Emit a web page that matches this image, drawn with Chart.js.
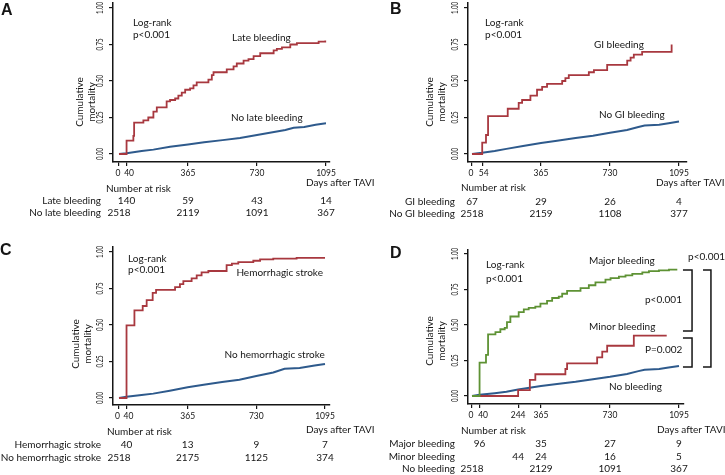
<!DOCTYPE html>
<html>
<head>
<meta charset="utf-8">
<script src="https://cdn.jsdelivr.net/npm/chart.js@4.4.1/dist/chart.umd.min.js"></script>
<style>
  html, body { margin: 0; padding: 0; background: #fff; }
  #wrap { position: relative; width: 725px; height: 475px; overflow: hidden; }
  #wrap canvas { position: absolute; left: 0; top: 0; }
</style>
</head>
<body>
<div id="wrap">
  <canvas id="panelA" width="725" height="475"></canvas>
  <canvas id="panelB" width="725" height="475"></canvas>
  <canvas id="panelC" width="725" height="475"></canvas>
  <canvas id="panelD" width="725" height="475"></canvas>
</div>
<script>
// ---- data: days after TAVI -> cumulative mortality ----
const yTicks = [0, 0.25, 0.5, 0.75, 1];
const yTickLabels = ['0.00', '0.25', '0.50', '0.75', '1.00'];

// A: late bleeding
const lateDays = [0, 40, 76, 80, 129, 155, 182, 200, 252, 270, 297, 314, 332, 350, 376, 394, 411, 473, 491, 500, 570, 606, 623, 659, 685, 712, 747, 818, 835, 862, 906, 941, 1056, 1091];
const lateMort = [0, 0.092, 0.124, 0.215, 0.23, 0.25, 0.29, 0.32, 0.36, 0.37, 0.38, 0.40, 0.42, 0.44, 0.45, 0.47, 0.49, 0.51, 0.54, 0.56, 0.58, 0.60, 0.62, 0.64, 0.65, 0.67, 0.69, 0.71, 0.72, 0.73, 0.75, 0.76, 0.77, 0.778];
const noLateDays = [0, 40, 120, 182, 270, 365, 450, 548, 640, 730, 820, 880, 924, 980, 1040, 1095];
const noLateMort = [0, 0.005, 0.02, 0.03, 0.05, 0.065, 0.08, 0.095, 0.11, 0.13, 0.15, 0.165, 0.18, 0.185, 0.2, 0.21];

// B: GI bleeding
const giDays = [0, 54, 74, 85, 189, 247, 265, 309, 344, 371, 397, 477, 494, 512, 618, 645, 715, 821, 839, 856, 900, 1056];
const giMort = [0, 0.078, 0.13, 0.26, 0.31, 0.35, 0.37, 0.40, 0.44, 0.46, 0.48, 0.50, 0.52, 0.54, 0.56, 0.575, 0.61, 0.64, 0.66, 0.68, 0.70, 0.75];
const noGiDays = [0, 54, 120, 182, 270, 365, 450, 548, 640, 730, 820, 880, 913, 990, 1040, 1095];
const noGiMort = [0, 0.008, 0.02, 0.035, 0.055, 0.075, 0.09, 0.11, 0.125, 0.145, 0.165, 0.185, 0.195, 0.2, 0.21, 0.222];

// C: hemorrhagic stroke
const hsDays = [0, 40, 82, 126, 147, 179, 197, 298, 324, 342, 386, 413, 439, 475, 572, 600, 634, 714, 750, 820, 944, 1095];
const hsMort = [0, 0.497, 0.60, 0.63, 0.67, 0.72, 0.74, 0.76, 0.78, 0.80, 0.82, 0.84, 0.86, 0.87, 0.91, 0.92, 0.93, 0.94, 0.95, 0.955, 0.96, 0.96];
const noHsDays = [0, 40, 120, 182, 270, 365, 450, 548, 640, 730, 820, 880, 960, 1040, 1095];
const noHsMort = [0, 0.008, 0.02, 0.03, 0.05, 0.073, 0.09, 0.11, 0.125, 0.15, 0.175, 0.2, 0.205, 0.222, 0.233];

// D: major / minor / no bleeding
const majorDays = [0, 40, 74, 85, 124, 150, 173, 185, 203, 247, 274, 300, 335, 362, 397, 424, 459, 477, 503, 574, 618, 653, 706, 733, 777, 812, 848, 901, 936, 989, 1042, 1086];
const majorMort = [0, 0.235, 0.29, 0.434, 0.45, 0.47, 0.48, 0.52, 0.56, 0.59, 0.61, 0.62, 0.63, 0.65, 0.67, 0.69, 0.70, 0.72, 0.74, 0.76, 0.78, 0.80, 0.82, 0.83, 0.84, 0.85, 0.86, 0.87, 0.88, 0.885, 0.89, 0.89];
const minorDays = [0, 244, 306, 335, 494, 503, 662, 689, 715, 856, 1030];
const minorMort = [0, 0.042, 0.113, 0.153, 0.19, 0.23, 0.272, 0.312, 0.354, 0.425, 0.425];
const noBleedDays = [0, 40, 120, 182, 244, 365, 450, 548, 640, 730, 820, 880, 913, 990, 1040, 1095];
const noBleedMort = [0, 0.008, 0.02, 0.03, 0.045, 0.07, 0.085, 0.1, 0.118, 0.135, 0.155, 0.175, 0.185, 0.19, 0.2, 0.211];

// number at risk
const riskDaysA = [40, 365, 730, 1095], lateRisk = [140, 59, 43, 14];
const riskDays0 = [0, 365, 730, 1095];
const noLateRisk = [2518, 2119, 1091, 367];
const giRisk = [67, 29, 26, 4], noGiRisk = [2518, 2159, 1108, 377];
const hsRisk = [40, 13, 9, 7], noHsRisk = [2518, 2175, 1125, 374];
const majorRiskDays = [40, 365, 730, 1095], majorRisk = [96, 35, 27, 9];
const minorRiskDays = [244, 365, 730, 1095], minorRisk = [44, 24, 16, 5];
const noBleedRisk = [2518, 2129, 1091, 367];

const FF = 'Lato, "Open Sans", sans-serif';
const INK = '#151515';
const RED = '#a8383f', BLUE = '#2e5a8c', GREEN = '#5e9234';

function pts(days, vals) {
    return days.map((d, i) => ({ x: d, y: vals[i] }));
}

const panels = [
    {
        id: 'panelA', letter: 'A', letterPos: [1, 11],
        geo: { axisLeft: 113, axisRight: 330, axisTop: 3, axisBottom: 162, x0: 119, x1: 326, y0: 154, y1: 8 },
        xTicks: [0, 40, 365, 730, 1095], xNudge: { 0: -1, 40: 2.5 },
        series: [
            { days: lateDays, vals: lateMort, color: RED, stepped: true },
            { days: noLateDays, vals: noLateMort, color: BLUE, stepped: false }
        ],
        labels: [
            { text: 'Log-rank', day: 74, val: 0.897 },
            { text: 'p<0.001', day: 74, val: 0.815 },
            { text: 'Late bleeding', day: 598, val: 0.795 },
            { text: 'No late bleeding', day: 592, val: 0.247 }
        ],
        yTitle: [80, 92, 102],
        riskTitle: [106, 189], daysTitle: [306, 183], rowRight: 101,
        risk: [
            { name: 'Late bleeding', days: riskDaysA, n: lateRisk, y: 201 },
            { name: 'No late bleeding', days: riskDays0, n: noLateRisk, y: 213 }
        ]
    },
    {
        id: 'panelB', letter: 'B', letterPos: [390, 10],
        geo: { axisLeft: 468, axisRight: 687, axisTop: 3, axisBottom: 162, x0: 472, x1: 679, y0: 154, y1: 8 },
        xTicks: [0, 54, 365, 730, 1095], xNudge: { 0: -1, 54: 1.5 },
        series: [
            { days: giDays, vals: giMort, color: RED, stepped: true },
            { days: noGiDays, vals: noGiMort, color: BLUE, stepped: false }
        ],
        labels: [
            { text: 'Log-rank', day: 69, val: 0.897 },
            { text: 'p<0.001', day: 69, val: 0.815 },
            { text: 'GI bleeding', day: 645, val: 0.747 },
            { text: 'No GI bleeding', day: 672, val: 0.267 }
        ],
        yTitle: [430, 442, 102],
        riskTitle: [461, 188], daysTitle: [656, 183], rowRight: 455,
        risk: [
            { name: 'GI bleeding', days: riskDays0, n: giRisk, y: 202 },
            { name: 'No GI bleeding', days: riskDays0, n: noGiRisk, y: 214 }
        ]
    },
    {
        id: 'panelC', letter: 'C', letterPos: [0, 251],
        geo: { axisLeft: 113, axisRight: 330, axisTop: 247, axisBottom: 405, x0: 119, x1: 325, y0: 398, y1: 252 },
        xTicks: [0, 40, 365, 730, 1095], xNudge: { 0: -1.5, 40: 2 },
        series: [
            { days: hsDays, vals: hsMort, color: RED, stepped: true },
            { days: noHsDays, vals: noHsMort, color: BLUE, stepped: false }
        ],
        labels: [
            { text: 'Log-rank', day: 48, val: 0.952 },
            { text: 'p<0.001', day: 48, val: 0.877 },
            { text: 'Hemorrhagic stroke', day: 624, val: 0.856 },
            { text: 'No hemorrhagic stroke', day: 561, val: 0.295 }
        ],
        yTitle: [76, 88, 344],
        riskTitle: [107, 432], daysTitle: [306, 430], rowRight: 101,
        risk: [
            { name: 'Hemorrhagic stroke', days: riskDaysA, n: hsRisk, y: 445 },
            { name: 'No hemorrhagic stroke', days: riskDays0, n: noHsRisk, y: 458 }
        ]
    },
    {
        id: 'panelD', letter: 'D', letterPos: [390, 254],
        geo: { axisLeft: 468, axisRight: 684, axisTop: 250, axisBottom: 404, x0: 472, x1: 679, y0: 396, y1: 254 },
        xTicks: [0, 40, 244, 365, 730, 1095], xNudge: { 0: -1, 40: 3.5 },
        series: [
            { days: majorDays, vals: majorMort, color: GREEN, stepped: true },
            { days: minorDays, vals: minorMort, color: RED, stepped: true },
            { days: noBleedDays, vals: noBleedMort, color: BLUE, stepped: false }
        ],
        labels: [
            { text: 'Log-rank', day: 74, val: 0.922 },
            { text: 'p<0.001', day: 74, val: 0.824 },
            { text: 'Major bleeding', day: 619, val: 0.95 },
            { text: 'Minor bleeding', day: 619, val: 0.486 },
            { text: 'No bleeding', day: 725, val: 0.063 },
            { text: 'p<0.001', day: 1143, val: 0.979 },
            { text: 'p<0.001', day: 915, val: 0.676 },
            { text: 'P=0.002', day: 915, val: 0.324 }
        ],
        brackets: [
            { from: 1116, at: 1164, top: 0.887, bottom: 0.458 },
            { from: 1116, at: 1164, top: 0.408, bottom: 0.204 },
            { from: 1222, at: 1264, top: 0.887, bottom: 0.204 }
        ],
        yTitle: [430, 442, 341],
        riskTitle: [461, 431], daysTitle: [657, 430], rowRight: 455,
        risk: [
            { name: 'Major bleeding', days: majorRiskDays, n: majorRisk, y: 444 },
            { name: 'Minor bleeding', days: minorRiskDays, n: minorRisk, y: 457 },
            { name: 'No bleeding', days: riskDays0, n: noBleedRisk, y: 469 }
        ]
    }
];

// rotated text, optionally squeezed along its length (the source figure is squashed vertically)
function rotText(ctx, str, x, y, squeeze) {
    ctx.save();
    ctx.translate(x, y);
    ctx.rotate(-Math.PI / 2);
    if (squeeze) ctx.scale(squeeze, 1);
    ctx.fillText(str, 0, 0);
    ctx.restore();
}

function textPlugin(p) {
    return {
        id: 'panelText' + p.letter,
        afterDraw(chart) {
            const ctx = chart.ctx, xs = chart.scales.x, ys = chart.scales.y;
            ctx.save();
            ctx.fillStyle = INK;
            ctx.strokeStyle = INK;
            ctx.textBaseline = 'middle';

            ctx.font = 'bold 16px "Liberation Sans", Arial, sans-serif';
            ctx.textAlign = 'left';
            ctx.fillText(p.letter, p.letterPos[0], p.letterPos[1]);

            // tick labels
            ctx.textAlign = 'center';
            ctx.font = '8.5px ' + FF;
            p.xTicks.forEach(v => {
                ctx.fillText(String(v), xs.getPixelForValue(v) + (p.xNudge[v] || 0), p.geo.axisBottom + 11);
            });
            yTicks.forEach((v, i) => rotText(ctx, yTickLabels[i], p.geo.axisLeft - 13, ys.getPixelForValue(v), 0.72));

            ctx.font = '10px ' + FF;
            rotText(ctx, 'Cumulative', p.yTitle[0], p.yTitle[2]);
            rotText(ctx, 'mortality', p.yTitle[1], p.yTitle[2]);

            ctx.textAlign = 'left';
            p.labels.forEach(l => ctx.fillText(l.text, xs.getPixelForValue(l.day), ys.getPixelForValue(l.val)));

            (p.brackets || []).forEach(b => {
                const xa = xs.getPixelForValue(b.from), xb = xs.getPixelForValue(b.at);
                const ya = ys.getPixelForValue(b.top), yb = ys.getPixelForValue(b.bottom);
                ctx.lineWidth = 1.5;
                ctx.beginPath();
                ctx.moveTo(xa, ya);
                ctx.lineTo(xb, ya);
                ctx.lineTo(xb, yb);
                ctx.lineTo(xa, yb);
                ctx.stroke();
            });

            // number at risk table
            ctx.fillText('Number at risk', p.riskTitle[0], p.riskTitle[1]);
            ctx.fillText('Days after TAVI', p.daysTitle[0], p.daysTitle[1]);
            p.risk.forEach(r => {
                ctx.textAlign = 'right';
                ctx.fillText(r.name, p.rowRight, r.y);
                ctx.textAlign = 'center';
                r.days.forEach((d, i) => ctx.fillText(String(r.n[i]), xs.getPixelForValue(d), r.y));
            });
            ctx.restore();
        }
    };
}

function makePanel(p) {
    const g = p.geo;
    const ppd = (g.x1 - g.x0) / 1095;
    const ppu = g.y0 - g.y1;
    const xMin = -(g.x0 - g.axisLeft) / ppd;
    const xMax = 1095 + (g.axisRight - g.x1) / ppd;
    const yMin = -(g.axisBottom - g.y0) / ppu;
    const yMax = 1 + (g.y1 - g.axisTop) / ppu;

    const axisCommon = {
        type: 'linear',
        bounds: 'data',
        grid: { drawOnChartArea: false, drawTicks: true, tickLength: 4, color: INK, lineWidth: 1.2 },
        border: { display: true, color: INK, width: 1.5 },
        ticks: { display: false }
    };

    return new Chart(document.getElementById(p.id), {
        type: 'line',
        data: {
            datasets: p.series.map(s => ({
                data: pts(s.days, s.vals),
                borderColor: s.color,
                borderWidth: s.stepped ? 1.8 : 2,
                stepped: s.stepped,
                pointRadius: 0,
                fill: false,
                tension: 0
            }))
        },
        options: {
            responsive: false,
            animation: false,
            events: [],
            layout: {
                padding: { left: g.axisLeft - 20, right: 725 - g.axisRight, top: g.axisTop, bottom: 475 - g.axisBottom - 20 }
            },
            plugins: { legend: { display: false }, tooltip: { enabled: false } },
            scales: {
                x: Object.assign({}, axisCommon, {
                    min: xMin, max: xMax,
                    afterBuildTicks: s => { s.ticks = p.xTicks.map(v => ({ value: v })); },
                    afterFit: s => { s.height = 20; }
                }),
                y: Object.assign({}, axisCommon, {
                    min: yMin, max: yMax,
                    afterBuildTicks: s => { s.ticks = yTicks.map(v => ({ value: v })); },
                    afterFit: s => { s.width = 20; }
                })
            }
        },
        plugins: [textPlugin(p)]
    });
}

panels.forEach(makePanel);
</script>
</body>
</html>
